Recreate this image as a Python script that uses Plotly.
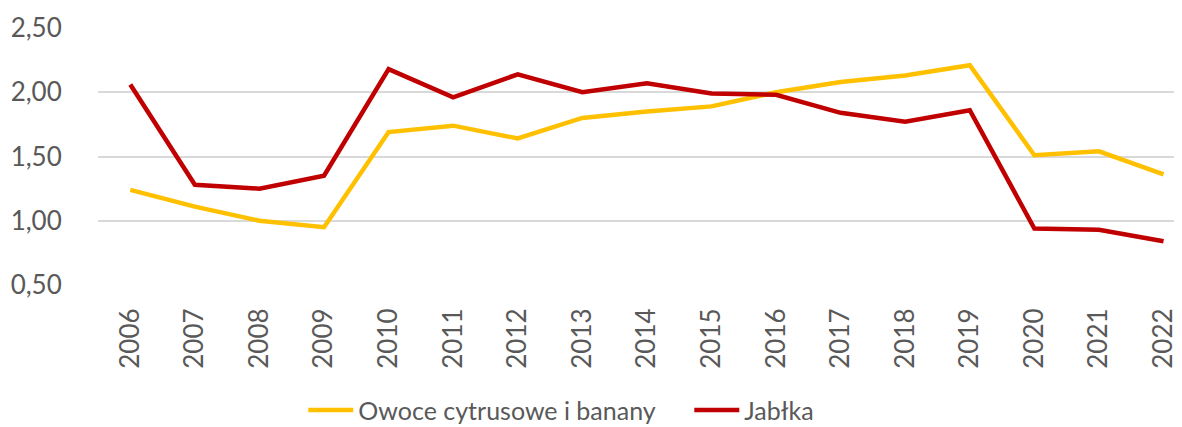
import plotly.graph_objects as go

years = list(range(2006, 2023))
year_labels = [str(y) for y in years]
cytrusy = [1.24, 1.11, 1.00, 0.95, 1.69, 1.74, 1.64, 1.80, 1.85, 1.89, 2.00, 2.08, 2.13, 2.21, 1.51, 1.54, 1.36]
jablka = [2.06, 1.28, 1.25, 1.35, 2.18, 1.96, 2.14, 2.00, 2.07, 1.99, 1.98, 1.84, 1.77, 1.86, 0.94, 0.93, 0.84]
y_ticks = [0.5, 1.0, 1.5, 2.0, 2.5]
y_tick_labels = ["0,50", "1,00", "1,50", "2,00", "2,50"]

FONT = "Lato"
GRAY = "#595959"

fig = go.Figure()
fig.add_trace(go.Scatter(x=years, y=cytrusy, mode="lines", name="Owoce cytrusowe i banany",
                         line=dict(color="#FFC000", width=4.5)))
fig.add_trace(go.Scatter(x=years, y=jablka, mode="lines", name="Jabłka",
                         line=dict(color="#C00000", width=4.5)))

fig.update_layout(
    width=1182, height=427,
    margin=dict(l=90, r=0, t=20, b=150, autoexpand=False),
    paper_bgcolor="white", plot_bgcolor="white",
    font=dict(family=FONT, color=GRAY, size=26),
    showlegend=True,
    legend=dict(orientation="h", x=0.188, xanchor="left", yref="container", y=0.058, yanchor="middle",
                font=dict(size=25, color=GRAY), itemwidth=45, tracegroupgap=0,
                entrywidth=326, entrywidthmode="pixels"),
)
fig.update_xaxes(range=[2005.5, 2022.41], tickmode="array", tickvals=years, ticktext=year_labels,
                 tickangle=-90, showgrid=False, zeroline=False, showline=False, automargin=False,
                 ticks="outside", ticklen=12, tickcolor="rgba(0,0,0,0)",
                 tickfont=dict(size=26, color=GRAY, family=FONT))
fig.update_yaxes(range=[0.5, 2.5], tickmode="array", tickvals=y_ticks, ticktext=y_tick_labels,
                 showgrid=True, gridcolor="#D9D9D9", gridwidth=1.5, zeroline=False, showline=False,
                 automargin=False,
                 ticks="outside", ticklen=30, tickcolor="rgba(0,0,0,0)",
                 tickfont=dict(size=26, color=GRAY, family=FONT))

fig.write_html("out.html")
